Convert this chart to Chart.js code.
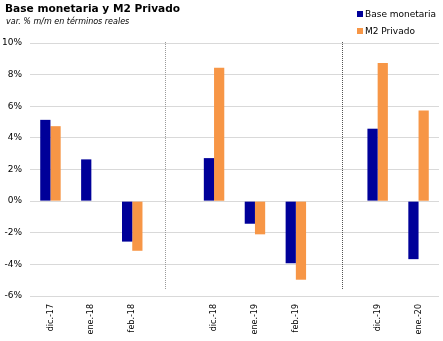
<!DOCTYPE html>
<html>
<head>
<meta charset="utf-8">
<script src="https://cdn.jsdelivr.net/npm/chart.js@4.4.1/dist/chart.umd.min.js"></script>
<style>
  html, body { margin: 0; padding: 0; background: #fff; }
  #wrap { position: relative; width: 443px; height: 341px; font-family: "DejaVu Sans", Verdana, sans-serif; }
  #titulo { position: absolute; left: 5px; top: 2px; font-size: 10.6px; font-weight: bold; color: #000; }
  #subtitulo { position: absolute; left: 6px; top: 17px; font-size: 8px; font-style: italic; color: #000; }
  #leyenda { position: absolute; left: 357px; top: 7px; font-size: 9px; color: #000; }
  #leyenda div { height: 17px; line-height: 14px; white-space: nowrap; }
  #leyenda span.m { display: inline-block; width: 6px; height: 6px; margin-right: 2px; vertical-align: 0px; }
  canvas { position: absolute; left: 0; top: 0; }
</style>
</head>
<body>
<div id="wrap">
  <canvas id="grafico" width="443" height="341"></canvas>
  <div id="titulo">Base monetaria y M2 Privado</div>
  <div id="subtitulo">var. % m/m en términos reales</div>
  <div id="leyenda"></div>
</div>
<script>
// Datos (categorias vacias = separacion entre años)
const meses = ['dic.-17', 'ene.-18', 'feb.-18', '', 'dic.-18', 'ene.-19', 'feb.-19', '', 'dic.-19', 'ene.-20'];
const baseMonetaria = [5.14, 2.64, -2.56, null, 2.72, -1.43, -3.93, null, 4.58, -3.67];
const m2Privado = [4.74, null, -3.14, null, 8.43, -2.10, -4.97, null, 8.73, 5.73];
const ticksY = [-6, -4, -2, 0, 2, 4, 6, 8, 10];
// posicion de las lineas punteadas, en unidades de categoria
const separadores = [2.81, 7.13];

const azul = '#000099';
const naranja = '#F79646';

// lineas punteadas verticales entre años
const lineasSeparadoras = {
  id: 'lineasSeparadoras',
  afterDatasetsDraw(chart) {
    const ctx = chart.ctx;
    const x = chart.scales.x;
    const area = chart.chartArea;
    const colores = ['#9a9a9a', '#555555'];
    ctx.save();
    ctx.lineWidth = 1;
    ctx.setLineDash([1, 1]);
    separadores.forEach((s, i) => {
      const base = Math.floor(s);
      const px = x.getPixelForValue(base) + (x.getPixelForValue(base + 1) - x.getPixelForValue(base)) * (s - base);
      ctx.strokeStyle = colores[i];
      ctx.beginPath();
      ctx.moveTo(Math.round(px) + 0.5, area.top - 1);
      ctx.lineTo(Math.round(px) + 0.5, area.bottom - 7);
      ctx.stroke();
    });
    ctx.restore();
  }
};

const datos = {
  labels: meses,
  datasets: [{
    label: 'Base monetaria',
    data: baseMonetaria,
    backgroundColor: azul,
    borderWidth: 0,
    categoryPercentage: 0.5,
    barPercentage: 1
  }, {
    label: 'M2 Privado',
    data: m2Privado,
    backgroundColor: naranja,
    borderWidth: 0,
    categoryPercentage: 0.5,
    barPercentage: 1
  }]
};

var grafico = new Chart(document.getElementById('grafico'), {
  type: 'bar',
  data: datos,
  options: {
    responsive: false,
    animation: false,
    layout: { padding: { top: 43, right: 4, left: 0, bottom: 0 } },
    plugins: {
      legend: { display: false },
      tooltip: { enabled: false }
    },
    scales: {
      x: {
        grid: { display: false },
        border: { display: false },
        ticks: {
          color: '#000',
          font: { family: 'DejaVu Sans', size: 8 },
          maxRotation: 90,
          minRotation: 90,
          autoSkip: false,
          padding: 0
        },
        afterFit(s) { s.height = 45; }
      },
      y: {
        min: -6,
        max: 10,
        afterBuildTicks(s) { s.ticks = ticksY.map(v => ({ value: v })); },
        grid: { color: '#d9d9d9', lineWidth: 1, drawTicks: false },
        border: { display: false },
        ticks: {
          color: '#000',
          font: { family: 'DejaVu Sans', size: 9 },
          padding: 8,
          callback: v => v + '%'
        },
        afterFit(s) { s.width = 30; }
      }
    }
  },
  plugins: [lineasSeparadoras]
});

// leyenda
const leyenda = document.getElementById('leyenda');
datos.datasets.forEach(d => {
  const fila = document.createElement('div');
  fila.innerHTML = '<span class="m" style="background:' + d.backgroundColor + '"></span>' + d.label;
  leyenda.appendChild(fila);
});
</script>
</body>
</html>
